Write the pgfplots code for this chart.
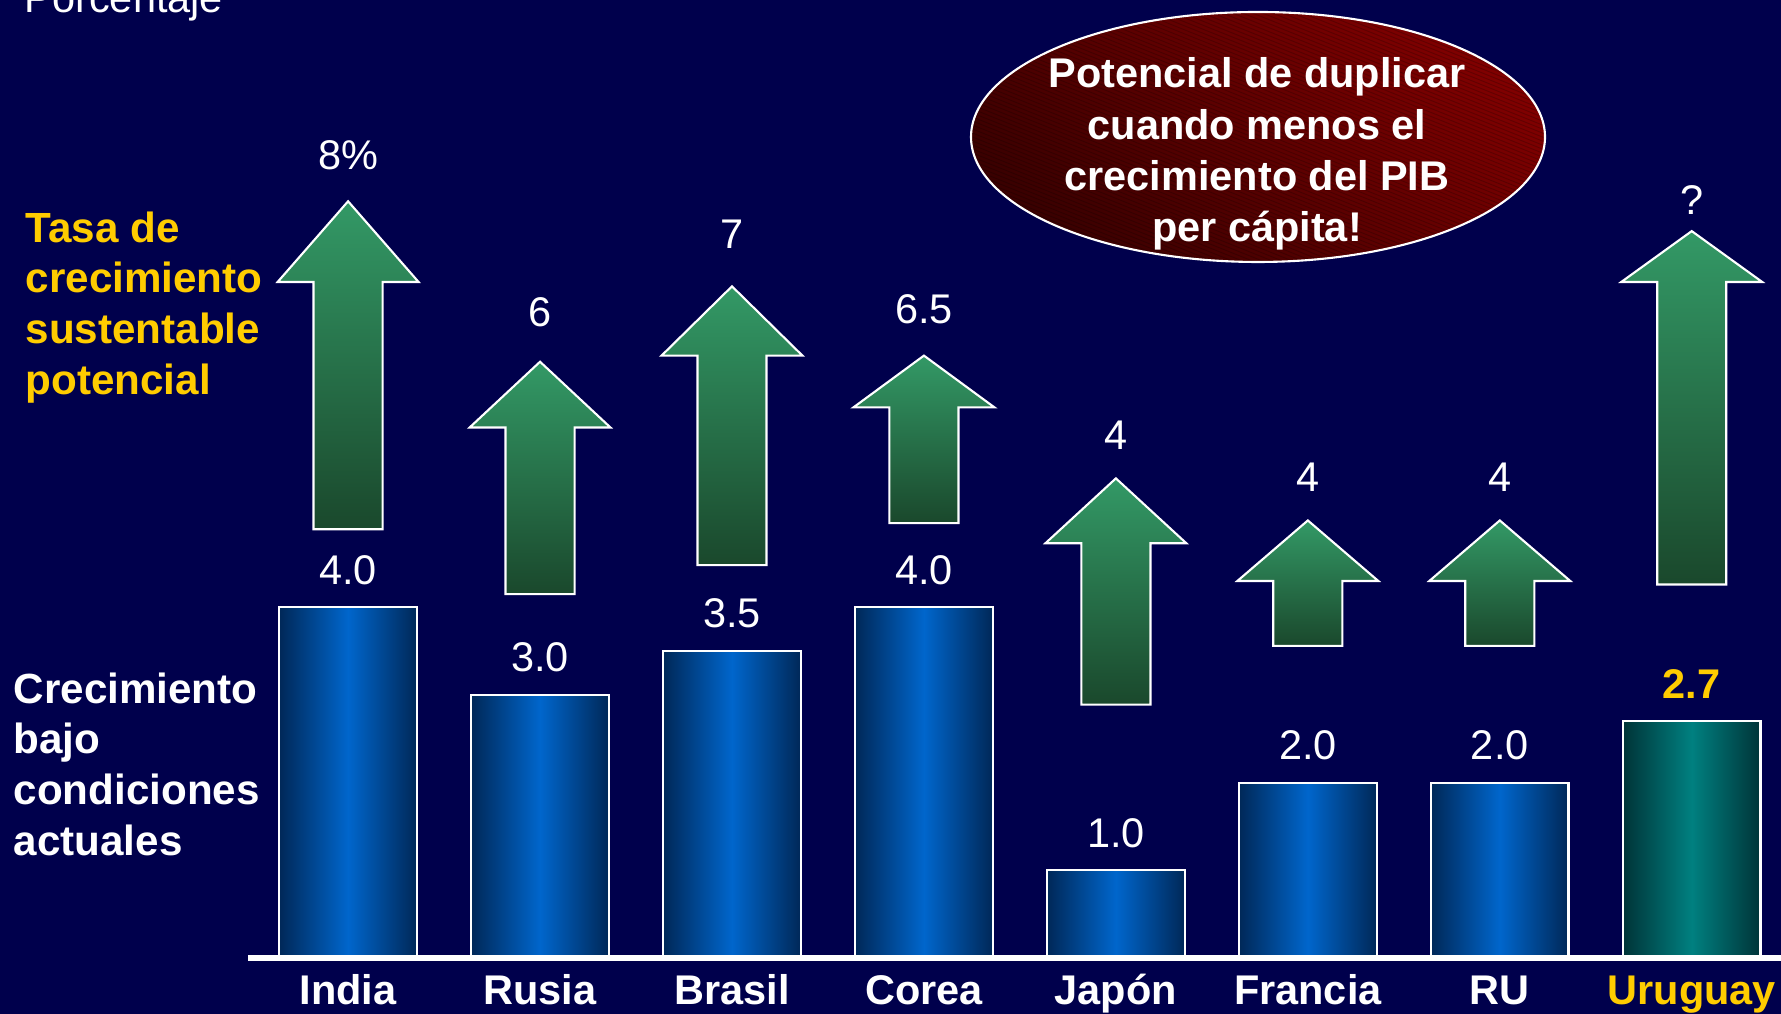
\documentclass[border=0pt]{standalone}
\usepackage{fontspec}
\setmainfont{Liberation Sans}
\usepackage{pgfplots}
\pgfplotsset{compat=1.18}
\definecolor{bg}{RGB}{0,0,76}
\definecolor{bardark}{RGB}{0,40,88}
\definecolor{barmid}{RGB}{0,102,204}
\definecolor{uydark}{RGB}{0,52,56}
\definecolor{uymid}{RGB}{0,128,128}
\definecolor{argtop}{RGB}{51,153,102}
\definecolor{argbot}{RGB}{26,72,44}
\definecolor{uyyellow}{RGB}{255,204,0}
\definecolor{redlight}{RGB}{128,0,0}
\definecolor{reddark}{RGB}{58,0,0}
\pgfplotsset{
  barbase/.style={ybar, bar width=0.716, bar shift=0pt, draw=white, line width=0.6pt,
    nodes near coords, point meta=explicit symbolic},
  bluebar/.style={barbase, left color=bardark, right color=bardark, middle color=barmid,
    every node near coord/.append style={font=\fontsize{11.8}{13}\selectfont, text=white, anchor=center, yshift=0.375cm}},
  uybar/.style={barbase, left color=uydark, right color=uydark, middle color=uymid,
    every node near coord/.append style={font=\fontsize{11.8}{13}\selectfont\bfseries, text=uyyellow, anchor=center, yshift=0.375cm}},
  uparrow/.style={draw=white, line width=0.6pt, top color=argtop, bottom color=argbot},
}
\begin{document}
\begin{tikzpicture}
\path[use as bounding box] (0,-0.56) rectangle (17.81,9.58);
\clip (0,-0.56) rectangle (17.81,9.58);
\fill[bg] (-1,-1) rectangle (19,11);
\begin{axis}[
  at={(0,0)}, anchor=south west,
  scale only axis, width=17.81cm, height=9.58cm,
  xmin=-1.8135, xmax=7.465, ymin=0, ymax=10.926,
  axis line style={draw=none},
  ytick=\empty,
  xtick={0,1,2,3,4,5,6,7},
  xticklabels={India,Rusia,Brasil,Corea,Japón,Francia,RU,\textcolor{uyyellow}{Uruguay}},
  major tick length=0pt,
  xticklabel style={font=\fontsize{11.8}{13}\selectfont\bfseries, text=white, anchor=base, yshift=-0.47cm},
  clip=false,
]
% current growth (bars)
\addplot[bluebar] coordinates {(0,4.0)[4.0]};
\addplot[bluebar] coordinates {(1,3.0)[3.0]};
\addplot[bluebar] coordinates {(2,3.5)[3.5]};
\addplot[bluebar] coordinates {(3,4.0)[4.0]};
\addplot[bluebar] coordinates {(4,1.0)[1.0]};
\addplot[bluebar] coordinates {(5,2.0)[2.0]};
\addplot[bluebar] coordinates {(6,2.0)[2.0]};
\addplot[uybar] coordinates {(7,2.7)[2.7]};
% potential growth (arrows)
\addplot[uparrow] coordinates {
 (-0.18,4.89) (0.18,4.89) (0.18,7.71) (0.367,7.71) (0,8.63) (-0.367,7.71) (-0.18,7.71)} -- cycle;
\addplot[uparrow] coordinates {
 (0.82,4.15) (1.18,4.15) (1.18,6.05) (1.367,6.05) (1,6.80) (0.633,6.05) (0.82,6.05)} -- cycle;
\addplot[uparrow] coordinates {
 (1.82,4.48) (2.18,4.48) (2.18,6.87) (2.367,6.87) (2,7.66) (1.633,6.87) (1.82,6.87)} -- cycle;
\addplot[uparrow] coordinates {
 (2.82,4.96) (3.18,4.96) (3.18,6.28) (3.367,6.28) (3,6.87) (2.633,6.28) (2.82,6.28)} -- cycle;
\addplot[uparrow] coordinates {
 (3.82,2.89) (4.18,2.89) (4.18,4.73) (4.367,4.73) (4,5.47) (3.633,4.73) (3.82,4.73)} -- cycle;
\addplot[uparrow] coordinates {
 (4.82,3.56) (5.18,3.56) (5.18,4.30) (5.367,4.30) (5,4.99) (4.633,4.30) (4.82,4.30)} -- cycle;
\addplot[uparrow] coordinates {
 (5.82,3.56) (6.18,3.56) (6.18,4.30) (6.367,4.30) (6,4.99) (5.633,4.30) (5.82,4.30)} -- cycle;
\addplot[uparrow] coordinates {
 (6.82,4.26) (7.18,4.26) (7.18,7.71) (7.367,7.71) (7,8.29) (6.633,7.71) (6.82,7.71)} -- cycle;
% potential labels
\addplot[draw=none, nodes near coords, point meta=explicit symbolic,
  every node near coord/.append style={font=\fontsize{11.8}{13}\selectfont, text=white, anchor=center}]
  coordinates {(0,9.16)[8\%] (1,7.36)[6] (2,8.25)[7] (3,7.40)[6.5] (4,5.96)[4] (5,5.48)[4] (6,5.48)[4] (7,8.65)[?]};
\end{axis}
\draw[white, line width=1.6pt] (2.48,0) -- (17.9,0);
\node[anchor=base west, inner sep=0, text=white, font=\fontsize{11.8}{13}\selectfont] at (0.24,9.45) {Porcentaje};
\node[anchor=north west, inner sep=0, align=left, text=uyyellow, font=\fontsize{12}{14.4}\selectfont\bfseries] at (0.25,7.47) {Tasa de\\crecimiento\\sustentable\\potencial};
\node[anchor=north west, inner sep=0, align=left, text=white, font=\fontsize{12}{14.4}\selectfont\bfseries] at (0.13,2.86) {Crecimiento\\bajo\\condiciones\\actuales};
\path[top color=redlight, bottom color=reddark, shading angle=-40] (12.58,8.21) ellipse [x radius=2.87cm, y radius=1.25cm];
\begin{scope}
\clip (12.58,8.21) ellipse [x radius=2.87cm, y radius=1.25cm];
\foreach \k in {0,...,125} {
  \draw[black, opacity=0.22, line width=0.25pt] (9.6,6.9+0.04*\k) -- (15.6,4.5+0.04*\k);
}
\end{scope}
\draw[white, line width=0.6pt] (12.58,8.21) ellipse [x radius=2.87cm, y radius=1.25cm];
\node[anchor=north, inner sep=0, align=center, text=white, font=\fontsize{11.8}{14.6}\selectfont\bfseries] at (12.57,9.01) {Potencial de duplicar\\cuando menos el\\crecimiento del PIB\\per cápita!};
\end{tikzpicture}
\end{document}
